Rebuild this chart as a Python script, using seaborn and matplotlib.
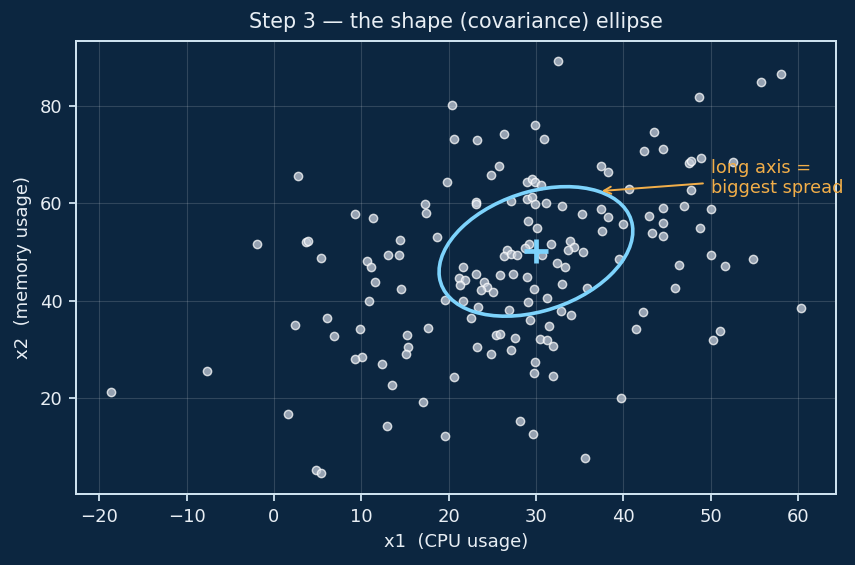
import numpy as np
import pandas as pd
import matplotlib
matplotlib.use("Agg")
import matplotlib.pyplot as plt
from matplotlib.patches import Ellipse
import seaborn as sns

# ---- data ----
x1 = [-18.7, -7.7, -1.9, 2.8, 2.4, 3.7, 3.9, 5.4, 6.1, 6.9, 1.6, 4.8, 5.4,
      32.5, 20.4, 29.9, 20.6, 23.2, 26.3, 30.9, 25.8, 24.9, 19.8, 29.0, 29.5,
      29.9, 30.6, 17.3, 17.4, 23.1, 23.1, 27.2, 29.0, 29.5, 29.9, 31.1, 33.0,
      35.3, 9.3, 11.4, 14.4, 13.1, 14.3, 18.7, 10.7, 11.1, 29.1, 30.1, 31.7,
      33.9, 34.4, 33.7, 35.4, 29.2, 28.8, 26.7, 26.3, 27.2, 27.8, 30.7, 32.4,
      33.3, 21.6, 11.6, 14.5, 10.9, 9.9, 10.1, 9.3, 12.4, 15.2, 15.4, 15.1,
      17.6, 13.5, 17.1, 12.9, 19.6, 20.6, 19.6, 21.2, 21.9, 21.3, 23.1, 24.1,
      24.4, 23.7, 25.1, 25.9, 27.4, 29.0, 29.8, 21.7, 23.4, 26.9, 29.1, 31.3,
      33.0, 35.8, 32.9, 34.0, 22.6, 29.3, 31.5, 25.4, 25.9, 27.6, 30.5, 31.3,
      31.9, 23.2, 24.8, 27.1, 29.9, 29.8, 32.0, 28.2, 29.7, 35.6, 55.8, 58.1,
      48.7, 43.5, 42.4, 44.5, 37.4, 38.2, 47.5, 47.7, 48.9, 52.6, 40.6, 47.8,
      37.4, 38.3, 40.0, 37.6, 42.9, 44.6, 44.5, 47.0, 50.0, 43.3, 44.5, 48.8,
      39.5, 50.0, 46.4, 51.6, 54.8, 45.9, 42.3, 41.4, 51.1, 50.3, 60.4, 39.7]
x2 = [21.3, 25.6, 51.6, 65.6, 34.9, 52.0, 52.3, 48.7, 36.4, 32.7, 16.6, 5.2, 4.5,
      89.2, 80.1, 76.0, 73.3, 72.9, 74.3, 73.1, 67.7, 65.9, 64.4, 64.4, 64.9,
      64.3, 63.8, 59.9, 58.0, 60.3, 59.9, 60.4, 60.8, 61.2, 59.9, 60.1, 59.5,
      57.8, 57.8, 57.0, 52.5, 49.4, 49.4, 53.1, 48.2, 46.9, 56.4, 54.9, 51.6,
      52.2, 51.1, 50.4, 50.0, 51.6, 50.8, 50.4, 49.2, 49.6, 49.4, 49.4, 47.7,
      46.9, 46.8, 43.8, 42.4, 39.9, 34.1, 28.5, 27.9, 26.9, 32.9, 30.4, 29.0,
      34.3, 22.6, 19.1, 14.3, 12.2, 24.4, 40.2, 44.7, 44.3, 43.2, 45.4, 43.9,
      42.7, 42.1, 41.7, 45.3, 45.4, 44.8, 42.4, 39.9, 38.7, 38.0, 39.7, 40.5,
      43.4, 42.6, 37.8, 37.0, 36.4, 36.1, 34.7, 32.9, 33.1, 32.4, 32.2, 32.0,
      30.6, 30.4, 29.0, 29.8, 27.4, 25.2, 24.6, 15.3, 12.5, 7.7, 85.0, 86.5,
      81.9, 74.7, 70.7, 71.2, 67.7, 66.5, 68.2, 68.7, 69.2, 68.5, 63.0, 62.8,
      58.9, 57.1, 55.8, 54.2, 57.3, 59.1, 56.0, 59.5, 58.8, 53.8, 53.3, 54.9,
      48.5, 49.4, 47.4, 47.1, 48.5, 42.6, 37.7, 34.1, 33.7, 31.8, 38.4, 19.9]

# centre and covariance of the drawn shape ellipse
centre = [30.0, 50.1]
shape_cov = [[123.0, 46.5],
             [46.5, 177.0]]
n_std = 1.0

title_text = "Step 3 \u2014 the shape (covariance) ellipse"
xlabel_text = "x1  (CPU usage)"
ylabel_text = "x2  (memory usage)"
note_text = "long axis =\nbiggest spread"
note_pos = (50.0, 65.2)

# ---- colours ----
BG = "#0c2640"
FG = "#e8eef4"
SPINE = "#cfe3f0"
ACCENT = "#7dd3fc"
ORANGE = "#f2ae49"

df = pd.DataFrame({"x1": x1, "x2": x2})

sns.set_style("dark")
plt.rcParams.update({
    "font.family": ["DejaVu Sans"],
    "figure.facecolor": BG,
    "axes.facecolor": BG,
    "savefig.facecolor": BG,
})

fig, ax = plt.subplots(figsize=(855 / 130, 565 / 130), dpi=130)
fig.subplots_adjust(left=0.0889, right=0.9778, bottom=0.1257, top=0.9283)

sns.scatterplot(data=df, x="x1", y="x2", ax=ax, s=21, color="#c4ccd8",
                alpha=0.75, edgecolor="white", linewidth=0.8, zorder=3)

mu = np.array(centre)
vals, vecs = np.linalg.eigh(np.array(shape_cov))
order = vals.argsort()[::-1]
vals, vecs = vals[order], vecs[:, order]
major = vecs[:, 0] * (1 if vecs[1, 0] >= 0 else -1)
angle = np.degrees(np.arctan2(major[1], major[0]))
w, h = 2 * n_std * np.sqrt(vals)
ell = Ellipse(xy=mu, width=w, height=h, angle=angle, fill=False,
              edgecolor=ACCENT, linewidth=2.0, zorder=4)
ax.add_patch(ell)
ax.plot(mu[0], mu[1], marker="+", markersize=13, markeredgewidth=2.6,
        color=ACCENT, zorder=5)

tip = mu + n_std * np.sqrt(vals[0]) * major
ax.annotate(note_text, xy=tip, xytext=note_pos, color=ORANGE, fontsize=9.8,
            ha="left", va="center",
            arrowprops=dict(arrowstyle="->", color=ORANGE, lw=1.1), zorder=6)

ax.set_title(title_text, color=FG, fontsize=11.5, pad=7)
ax.set_xlabel(xlabel_text, color=FG, fontsize=10)
ax.set_ylabel(ylabel_text, color=FG, fontsize=10)
ax.tick_params(colors=SPINE, labelcolor=FG, labelsize=10, length=4, width=1,
               bottom=True, left=True)
for sp in ax.spines.values():
    sp.set_visible(True)
    sp.set_color(SPINE)
    sp.set_linewidth(1.1)
ax.grid(True, color="white", alpha=0.15, linewidth=0.6)
ax.set_axisbelow(True)
ax.margins(0.05)

fig.savefig("out.png", dpi=130, facecolor=BG)
